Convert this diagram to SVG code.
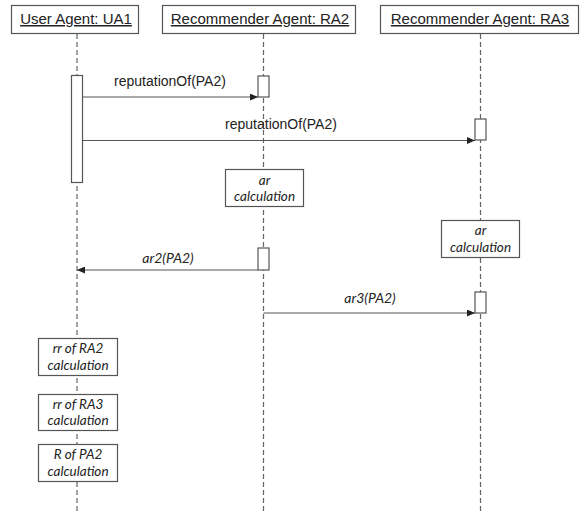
<svg xmlns="http://www.w3.org/2000/svg" width="585" height="516" viewBox="0 0 585 516">
  <style>
    .hdr { fill: #fff; stroke: #555; stroke-width: 1.2; }
    .hdrtxt { font-family: "Liberation Sans", Arial, sans-serif; font-size: 15px; fill: #222; text-anchor: middle; text-decoration: underline; }
    .life { stroke: #666; stroke-width: 1.2; stroke-dasharray: 5 3; fill: none; }
    .act { fill: #fff; stroke: #555; stroke-width: 1.2; }
    .calc { fill: #fff; stroke: #555; stroke-width: 1.2; }
    .calctxt { font-family: Lato, "Open Sans", sans-serif; font-style: italic; font-size: 13.5px; fill: #222; text-anchor: middle; }
    .msg { stroke: #555; stroke-width: 1.2; fill: none; marker-end: url(#head); }
    .msgtxt { font-family: "Liberation Sans", Arial, sans-serif; font-size: 14px; fill: #222; text-anchor: middle; }
    .msgital { font-family: Lato, "Open Sans", sans-serif; font-style: italic; font-size: 14px; fill: #222; text-anchor: middle; }
  </style>
  <defs>
    <marker id="head" markerWidth="8" markerHeight="7" refX="8" refY="3.5" orient="auto" markerUnits="userSpaceOnUse">
      <path d="M0,0 L8,3.5 L0,7 z" fill="#222"/>
    </marker>
  </defs>
  <rect width="585" height="516" fill="#fff"/>

  <!-- lifelines -->
  <g id="lifelines">
    <line class="life" x1="77" y1="34" x2="77" y2="512"/>
    <line class="life" x1="263.5" y1="34" x2="263.5" y2="512"/>
    <line class="life" x1="480.5" y1="34" x2="480.5" y2="512"/>
  </g>

  <!-- participants -->
  <g id="ua1">
    <rect class="hdr" x="11.5" y="5.5" width="127" height="28"/>
    <text class="hdrtxt" x="76" y="24">User Agent: UA1</text>
    <rect class="act" x="71.5" y="75.5" width="11" height="107"/>
  </g>
  <g id="ra2">
    <rect class="hdr" x="162.5" y="5.5" width="193" height="28"/>
    <text class="hdrtxt" x="260" y="24">Recommender Agent: RA2</text>
    <rect class="act" x="258" y="76" width="11" height="21"/>
    <rect class="act" x="258" y="248" width="11" height="22"/>
  </g>
  <g id="ra3">
    <rect class="hdr" x="380.5" y="5.5" width="198" height="28"/>
    <text class="hdrtxt" x="480" y="24">Recommender Agent: RA3</text>
    <rect class="act" x="475" y="119" width="11" height="21"/>
    <rect class="act" x="475" y="292" width="11" height="21"/>
  </g>

  <!-- local computations -->
  <g id="ra2-calc">
    <rect class="calc" x="225.5" y="169.5" width="78" height="37"/>
    <text class="calctxt" x="264.5" y="184.5">ar</text>
    <text class="calctxt" x="264.5" y="201">calculation</text>
  </g>
  <g id="ra3-calc">
    <rect class="calc" x="441.5" y="220.5" width="78" height="37"/>
    <text class="calctxt" x="480.5" y="235">ar</text>
    <text class="calctxt" x="480.5" y="251.5">calculation</text>
  </g>
  <g id="rr-ra2">
    <rect class="calc" x="38.5" y="338.5" width="79" height="37"/>
    <text class="calctxt" x="78" y="353">rr of RA2</text>
    <text class="calctxt" x="78" y="369.5">calculation</text>
  </g>
  <g id="rr-ra3">
    <rect class="calc" x="38.5" y="394.5" width="79" height="36"/>
    <text class="calctxt" x="78" y="408.5">rr of RA3</text>
    <text class="calctxt" x="78" y="425">calculation</text>
  </g>
  <g id="r-pa2">
    <rect class="calc" x="38.5" y="444.5" width="79" height="37"/>
    <text class="calctxt" x="78" y="459">R of PA2</text>
    <text class="calctxt" x="78" y="475.5">calculation</text>
  </g>

  <!-- messages -->
  <g id="connectors">
    <line class="msg" x1="83" y1="97" x2="258" y2="97"/>
    <text class="msgtxt" x="170" y="86">reputationOf(PA2)</text>
    <line class="msg" x1="83" y1="140.5" x2="475" y2="140.5"/>
    <text class="msgtxt" x="281" y="129">reputationOf(PA2)</text>
    <line class="msg" x1="258" y1="270" x2="77" y2="270"/>
    <text class="msgital" x="168" y="263">ar2(PA2)</text>
    <line class="msg" x1="263.5" y1="313" x2="475" y2="313"/>
    <text class="msgital" x="370" y="303">ar3(PA2)</text>
  </g>
</svg>
